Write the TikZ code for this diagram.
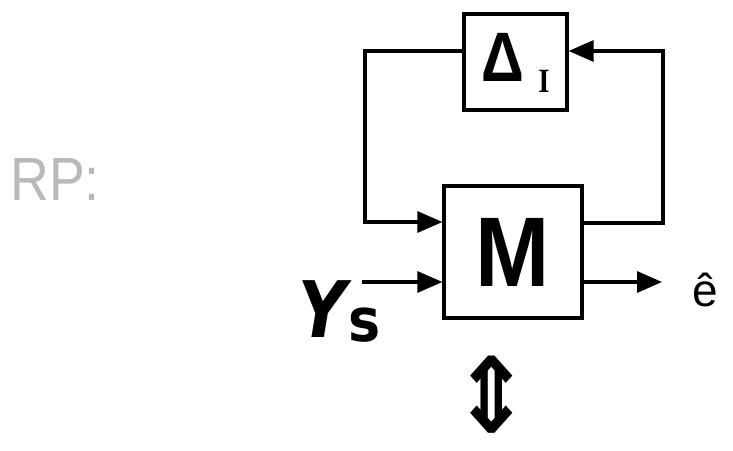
\documentclass[tikz,border=0pt]{standalone}
\usepackage{fontspec}
\setmainfont{Liberation Sans}
\newfontfamily\serifb{Liberation Serif}[BoldFont={Liberation Serif Bold}]
\newfontfamily\djv{DejaVu Sans}
\usetikzlibrary{arrows.meta}

\begin{document}
\begin{tikzpicture}[x=1pt, y=1pt, line width=3.2pt,
  blk/.style={draw, inner sep=0pt},
  lbl/.style={inner sep=0pt, outer sep=0pt},
  tip/.style={-{Triangle[length=25pt, width=21pt]}}]
  \useasboundingbox (0,0) rectangle (733,450);

  % title
  \node[lbl, text=gray!55, xscale=0.88] (rp) at (55,270)
    {\fontsize{61}{61}\selectfont RP:};

  % uncertainty block and plant block
  \node[blk, minimum width=103pt, minimum height=96pt] (delta) at (515.5,388) {};
  \node[lbl, xscale=0.85] (dlab) at (503,393) {\bfseries\fontsize{70}{70}\selectfont Δ};
  \node[lbl, xscale=0.85] (dsub) at (544,369) {\serifb\bfseries\fontsize{34}{34}\selectfont I};

  \node[blk, minimum width=138pt, minimum height=132pt] (M) at (513,198) {};
  \node[lbl, xscale=0.9] (mlab) at (512.5,197.5) {\bfseries\fontsize{99}{99}\selectfont M};

  % loop corners
  \coordinate (lt) at (365,399);
  \coordinate (lb) at (365,228);
  \coordinate (rt) at (663,399);
  \coordinate (rb) at (663,227);

  % feedback loop
  \draw[tip] (delta.west |- lt) -- (lt) -- (lb) -- (M.west |- lb);
  \draw[tip] (M.east |- rb) -- (rb) -- (rt) -- (delta.east |- rt);

  % exogenous input and error output
  \node[lbl, xscale=0.85] (ys) at (323,141) {\djv\bfseries\itshape\fontsize{78}{78}\selectfont Y};
  \node[lbl, xscale=0.9] (yss) at (365,125) {\djv\bfseries\fontsize{60}{60}\selectfont s};
  \coordinate (yin) at (362,168);
  \draw[tip] (yin) -- (M.west |- yin);

  \node[lbl] (ehat) at (705,160) {\fontsize{46}{46}\selectfont ê};
  \coordinate (eout) at (662,168);
  \draw[tip] (M.east |- eout) -- (eout);

  % equivalence symbol
  \node[lbl, xscale=1.3, yscale=1.45] (equiv) at (492,55) {\djv\bfseries\fontsize{72}{72}\selectfont ⇕};
\end{tikzpicture}
\end{document}
